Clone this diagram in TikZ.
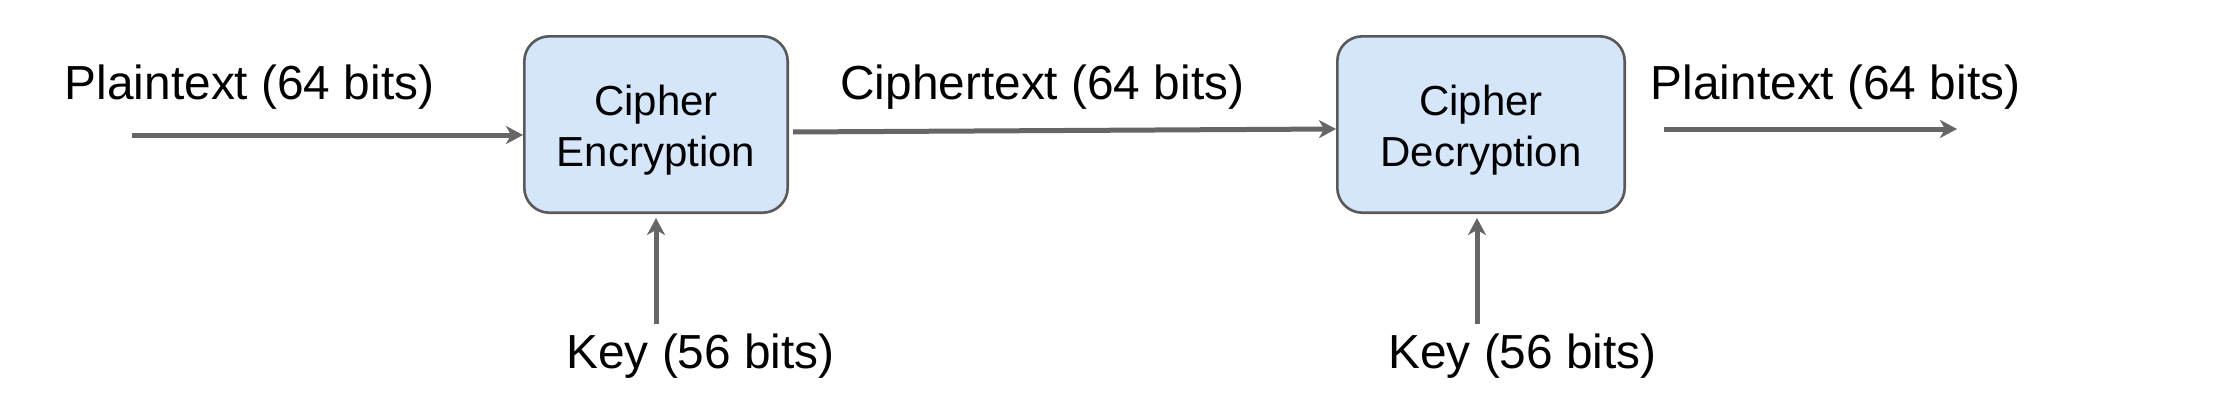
\documentclass[tikz,border=0pt]{standalone}
\usepackage{fontspec}
\setmainfont{Liberation Sans}
\usetikzlibrary{arrows.meta}
\definecolor{boxfill}{HTML}{D5E6FB}
\definecolor{boxline}{HTML}{595959}
\definecolor{arrowgray}{HTML}{666666}
\newcommand{\boxstrut}{\rule{0pt}{20.5pt}}
\tikzset{
  cipherbox/.style={draw=boxline, fill=boxfill, line width=1.3pt, rounded corners=12.5pt,
    minimum height=88.2pt, align=center, inner sep=0pt,
    font=\fontsize{21}{25.5}\selectfont},
  biglabel/.style={anchor=base west, inner sep=0pt, font=\fontsize{23.9}{28}\selectfont},
  flow/.style={draw=arrowgray, line width=2.5pt,
    -{Stealth[length=8.5pt,width=9pt,inset=2.5pt]}},
}
\begin{document}
\begin{tikzpicture}[x=0.5pt,y=-0.5pt]
\useasboundingbox (0,0) rectangle (2240,412);
\node[cipherbox, minimum width=131.7pt] (enc) at (656,124.5) {\boxstrut Cipher\\Encryption};
\node[cipherbox, minimum width=143.7pt] (dec) at (1481,124.5) {\boxstrut Cipher\\Decryption};
\node[biglabel] (pt1) at (64.5,99) {Plaintext (64 bits)};
\node[biglabel] (ct) at (840,99) {Ciphertext (64 bits)};
\node[biglabel] (pt2) at (1650.5,99) {Plaintext (64 bits)};
\node[biglabel] (k1) at (566,368) {Key (56 bits)};
\node[biglabel] (k2) at (1388,368) {Key (56 bits)};
\coordinate (in1) at (132,135);
\coordinate (out2s) at (1664,129);
\coordinate (out2e) at (1957,129);
\coordinate (k1s) at (656,324);
\coordinate (k2s) at (1477,324);
\draw[flow] (in1) -- (in1 -| enc.west);
\draw[flow] ([xshift=2pt,yshift=-3.75pt]enc.east) -- ([yshift=-2.25pt]dec.west);
\draw[flow] (out2s) -- (out2e);
\draw[flow] (k1s) -- ([yshift=-2pt]k1s |- enc.south);
\draw[flow] (k2s) -- ([yshift=-2pt]k2s |- dec.south);
\end{tikzpicture}
\end{document}
